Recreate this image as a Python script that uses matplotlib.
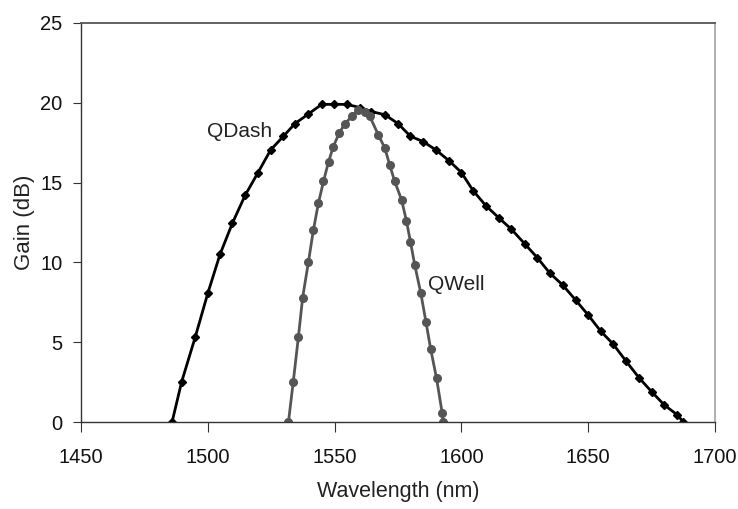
import matplotlib
matplotlib.use("Agg")
import matplotlib.pyplot as plt

plt.rcParams['font.family'] = ['Liberation Sans', 'DejaVu Sans']

qdash_wl = [1485.9, 1489.7, 1495.0, 1500.0, 1504.8, 1509.7, 1514.7, 1519.7, 1524.8, 1529.8,
            1534.4, 1539.7, 1544.9, 1549.8, 1554.8, 1560.0, 1564.5, 1569.8, 1575.0, 1579.9,
            1584.9, 1589.9, 1595.2, 1600.0, 1604.6, 1609.6, 1614.9, 1619.7, 1625.0, 1629.9,
            1634.9, 1639.9, 1645.0, 1650.0, 1654.9, 1659.9, 1664.9, 1670.0, 1675.0, 1680.0,
            1685.2, 1687.5]
qdash_gain = [0.0, 2.53, 5.3, 8.07, 10.5, 12.46, 14.2, 15.6, 17.05, 17.9,
              18.7, 19.3, 19.9, 19.9, 19.9, 19.7, 19.45, 19.25, 18.7, 17.9,
              17.57, 17.05, 16.36, 15.63, 14.5, 13.56, 12.77, 12.08, 11.16, 10.3,
              9.32, 8.59, 7.65, 6.7, 5.7, 4.87, 3.82, 2.78, 1.9, 1.07,
              0.44, 0.0]

qwell_wl = [1531.8, 1533.7, 1535.7, 1537.4, 1539.7, 1541.6, 1543.6, 1545.6, 1547.6, 1549.5,
            1551.8, 1554.1, 1556.8, 1559.4, 1562.0, 1563.9, 1567.2, 1569.8, 1571.8, 1573.7,
            1576.4, 1578.3, 1579.9, 1581.6, 1584.0, 1586.0, 1587.9, 1590.2, 1592.4, 1592.8]
qwell_gain = [0.0, 2.53, 5.3, 7.8, 10.05, 12.0, 13.7, 15.07, 16.3, 17.26,
              18.1, 18.7, 19.14, 19.56, 19.45, 19.14, 18.0, 17.16, 16.07, 15.07,
              13.92, 12.62, 11.3, 9.84, 8.07, 6.29, 4.56, 2.74, 0.58, 0.0]

xticks = [1450, 1500, 1550, 1600, 1650, 1700]
yticks = [0, 5, 10, 15, 20, 25]

fig = plt.figure(figsize=(7.38, 5.09), dpi=100)
ax = fig.add_axes([0.1098, 0.1709, 0.859, 0.784])

ax.plot(qdash_wl, qdash_gain, color='black', lw=2.0, marker='D', ms=4,
        markerfacecolor='black', markeredgecolor='black')
ax.plot(qwell_wl, qwell_gain, color='#555555', lw=2.0, marker='o', ms=5.5,
        markerfacecolor='#555555', markeredgecolor='#555555')

ax.text(1512.5, 18.2, 'QDash', fontsize=15, ha='center', va='center', color='#222222')
ax.text(1587, 8.6, 'QWell', fontsize=15, ha='left', va='center', color='#222222')

ax.set_xlim(1450, 1700)
ax.set_ylim(0, 25)
ax.set_xticks(xticks)
ax.set_yticks(yticks)
ax.tick_params(axis='both', labelsize=14.5, direction='out', color='#333333', labelcolor='#111111')
ax.tick_params(axis='x', length=7.5, pad=11)
ax.tick_params(axis='y', length=6, pad=7.5)

for s in ['left', 'bottom']:
    ax.spines[s].set_color('#333333')
    ax.spines[s].set_linewidth(1.0)
ax.spines['top'].set_color('#555555')
ax.spines['top'].set_linewidth(1.3)
ax.spines['right'].set_color('#aaaaaa')
ax.spines['right'].set_linewidth(1.3)

ax.set_xlabel('Wavelength (nm)', fontsize=15.5, color='#222222', labelpad=10)
ax.set_ylabel('Gain (dB)', fontsize=16, color='#222222', labelpad=3.5)

fig.savefig('out.png', dpi=100)
